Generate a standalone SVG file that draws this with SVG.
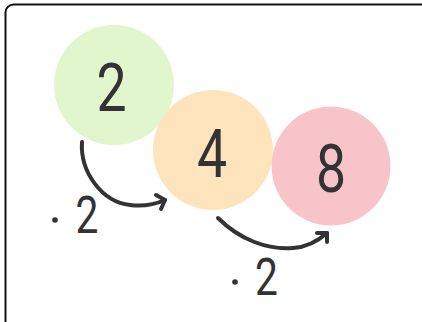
<svg xmlns="http://www.w3.org/2000/svg" width="422" height="322" viewBox="0 0 422 322">
<style>
.num{font-family:Roboto,"Liberation Sans",Arial,sans-serif;font-weight:400;font-size:67px;fill:#333;text-anchor:middle}
.lbl{font-family:Roboto,"Liberation Sans",Arial,sans-serif;font-weight:400;font-size:51px;fill:#333;text-anchor:middle}
.arc{fill:none;stroke:#333;stroke-width:4;stroke-linecap:round;stroke-linejoin:round}
</style>
<rect x="0" y="0" width="422" height="322" fill="#fff"/>
<rect x="5.5" y="4.5" width="440" height="340" rx="8" fill="none" stroke="#111" stroke-width="2"/>
<g id="node-2">
<circle cx="114" cy="85" r="60" fill="#e1f6cd"/>
<text class="num" transform="translate(111.5,111) scale(0.8,1)">2</text>
</g>
<g id="node-4">
<circle cx="213" cy="150" r="60" fill="#fde4bc"/>
<text class="num" transform="translate(212,177) scale(0.8,1)">4</text>
</g>
<g id="node-8">
<circle cx="331" cy="166" r="59.5" fill="#f7c5c9"/>
<text class="num" transform="translate(331,192) scale(0.8,1)">8</text>
</g>
<g id="connectors">
<path class="arc" d="M82,142 C80,172 102,202 130,205 C145,207 156,204 165,200"/>
<path class="arc" d="M156,195 L165,200 L161,209"/>
<path class="arc" d="M218,218 C240,240 268,250 293,248 C308,247 318,241 327,233"/>
<path class="arc" d="M317,233 L327,233 L327,242"/>
</g>
<g id="labels">
<circle cx="55" cy="220" r="2.8" fill="#333"/>
<text class="lbl" transform="translate(87,233) scale(0.8,1)">2</text>
<circle cx="235" cy="282" r="2.8" fill="#333"/>
<text class="lbl" transform="translate(266.5,295) scale(0.8,1)">2</text>
</g>
</svg>
